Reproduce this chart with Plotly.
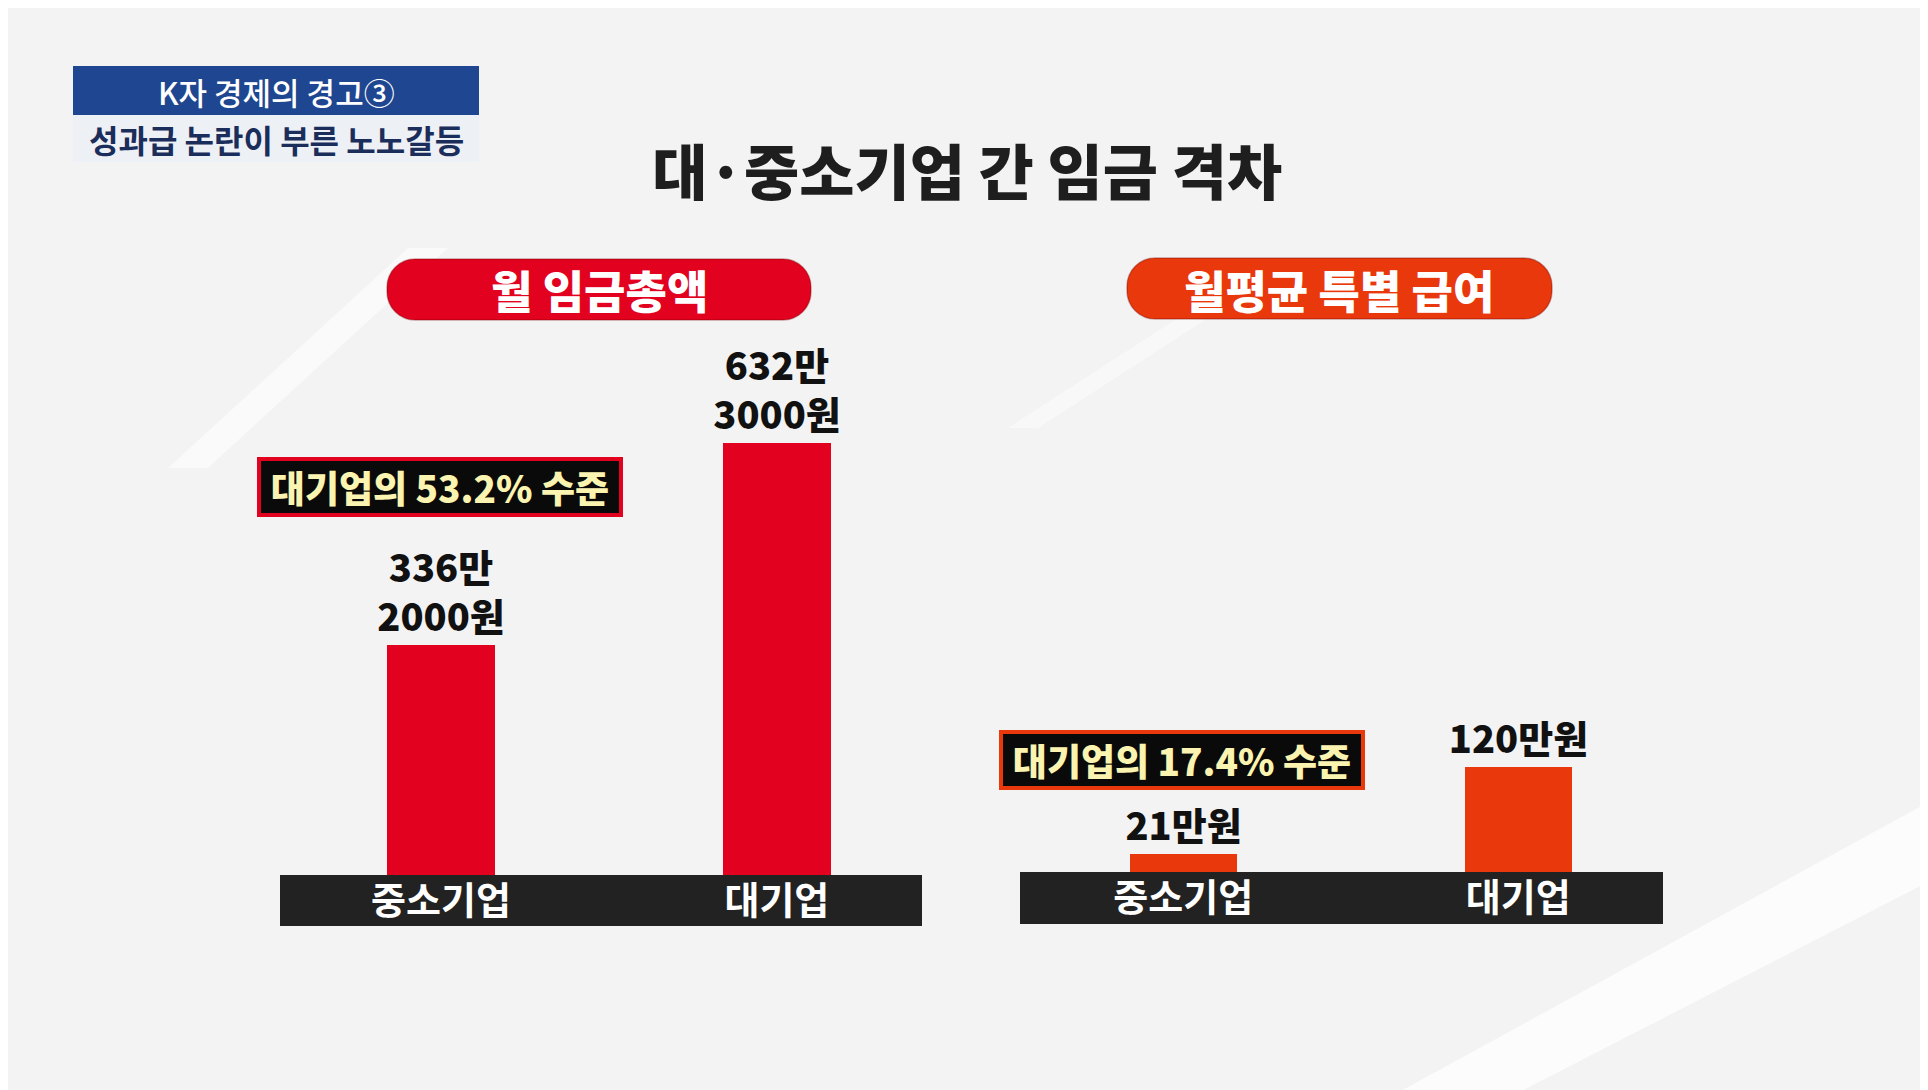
import plotly.graph_objects as go

W, H = 1928, 1090

# data (단위: 만원)
categories = ['중소기업', '대기업']
wage_total = [336.2, 632.3]
wage_total_labels = ['336만<br>2000원', '632만<br>3000원']
special_pay = [21, 120]
special_pay_labels = ['21만원', '120만원']
gap_notes = ['대기업의 53.2% 수준', '대기업의 17.4% 수준']
panel_titles = ['월 임금총액', '월평균 특별 급여']

FONT = 'Noto Sans CJK KR'
RED = '#e2021f'
ORANGE = '#e8380c'


def px(x):
    return x / W


def py(y):
    return 1 - y / H


def pill(x0, y0, x1, y1, r, color):
    # rounded rectangle in paper coords (pixel inputs)
    rx, ry = r / W, r / H
    X0, X1 = px(x0), px(x1)
    Y0, Y1 = py(y1), py(y0)
    k = 0.45
    path = (f'M {X0 + rx},{Y0} L {X1 - rx},{Y0} '
            f'C {X1 - rx * k},{Y0} {X1},{Y0 + ry * k} {X1},{Y0 + ry} '
            f'L {X1},{Y1 - ry} '
            f'C {X1},{Y1 - ry * k} {X1 - rx * k},{Y1} {X1 - rx},{Y1} '
            f'L {X0 + rx},{Y1} '
            f'C {X0 + rx * k},{Y1} {X0},{Y1 - ry * k} {X0},{Y1 - ry} '
            f'L {X0},{Y0 + ry} '
            f'C {X0},{Y0 + ry * k} {X0 + rx * k},{Y0} {X0 + rx},{Y0} Z')
    return dict(type='path', xref='paper', yref='paper', path=path,
                fillcolor=color, line=dict(color='rgba(120,0,0,0.35)', width=1.5),
                layer='below')


def label(text, x, y, size, color, weight=700, **kw):
    return dict(text=text, x=px(x), y=py(y), xref='paper', yref='paper',
                xanchor='center', yanchor='middle', showarrow=False,
                font=dict(family=FONT, size=size, color=color, weight=weight), **kw)


fig = go.Figure()

fig.add_trace(go.Bar(x=categories, y=wage_total, text=wage_total_labels,
                     textposition='outside', cliponaxis=False, constraintext='none',
                     textfont=dict(family=FONT, size=38, color='#111111', weight=900),
                     marker=dict(color=RED, line=dict(width=0)),
                     width=0.32, xaxis='x', yaxis='y', hoverinfo='skip'))

fig.add_trace(go.Bar(x=categories, y=special_pay, text=special_pay_labels,
                     textposition='outside', cliponaxis=False, constraintext='none',
                     textfont=dict(family=FONT, size=38, color='#111111', weight=900),
                     marker=dict(color=ORANGE, line=dict(width=0)),
                     width=0.32, xaxis='x2', yaxis='y2', hoverinfo='skip'))

axis_common = dict(showgrid=False, zeroline=False, showline=False, ticks='',
                   tickfont=dict(family=FONT, size=38, color='white', weight=700),
                   ticklabelstandoff=0, fixedrange=True)

shapes = [
    # background streaks
    dict(type='path', xref='paper', yref='paper', layer='below',
         path=f'M {px(160)},{py(460)} L {px(400)},{py(240)} L {px(440)},{py(240)} L {px(200)},{py(460)} Z',
         fillcolor='rgba(255,255,255,0.55)', line=dict(width=0)),
    dict(type='path', xref='paper', yref='paper', layer='below',
         path=f'M {px(1000)},{py(420)} L {px(1170)},{py(310)} L {px(1200)},{py(310)} L {px(1030)},{py(420)} Z',
         fillcolor='rgba(255,255,255,0.45)', line=dict(width=0)),
    dict(type='path', xref='paper', yref='paper', layer='below',
         path=f'M {px(1380)},{py(1090)} L {px(1928)},{py(790)} L {px(1928)},{py(870)} L {px(1500)},{py(1090)} Z',
         fillcolor='rgba(255,255,255,0.7)', line=dict(width=0)),
    # header boxes
    dict(type='rect', xref='paper', yref='paper', layer='below',
         x0=px(65), x1=px(471), y0=py(107), y1=py(58),
         fillcolor='#1f4690', line=dict(width=0)),
    dict(type='rect', xref='paper', yref='paper', layer='below',
         x0=px(65), x1=px(471), y0=py(154), y1=py(107),
         fillcolor='#edf0f5', line=dict(width=0)),
    # category bands
    dict(type='rect', xref='paper', yref='paper', layer='below',
         x0=px(272), x1=px(914), y0=py(918), y1=py(867),
         fillcolor='#222222', line=dict(width=0)),
    dict(type='rect', xref='paper', yref='paper', layer='below',
         x0=px(1012), x1=px(1655), y0=py(916), y1=py(864),
         fillcolor='#222222', line=dict(width=0)),
    # panel title pills
    pill(379, 251, 803, 312, 28, RED),
    pill(1119, 250, 1544, 311, 28, ORANGE),
]

annotations = [
    label('K자 경제의 경고③', 268, 83, 31, 'white', weight=500),
    label('성과급 논란이 부른 노노갈등', 268, 131, 32, '#1b2d5a'),
    label(panel_titles[0], 591, 282, 45, 'white', weight=900),
    label(panel_titles[1], 1331, 281, 45, 'white', weight=900),
    label(gap_notes[0], 432, 479, 37, '#fbf3b0', weight=900,
          bgcolor='#0a0a0a', bordercolor=RED, borderwidth=4, width=356, height=50),
    label(gap_notes[1], 1174, 752, 37, '#fbf3b0', weight=900,
          bgcolor='#0a0a0a', bordercolor=ORANGE, borderwidth=4, width=356, height=50),
]

fig.update_layout(
    width=W, height=H,
    margin=dict(l=0, r=0, t=0, b=0),
    paper_bgcolor='#f3f3f3', plot_bgcolor='rgba(0,0,0,0)',
    showlegend=False,
    title=dict(text='대·중소기업 간 임금 격차', x=0.4975, xanchor='center',
               y=py(166), yanchor='middle',
               font=dict(family=FONT, size=60, color='#1e1e1e', weight=900)),
    xaxis=dict(domain=[px(272), px(914)], range=[-0.479, 1.432], anchor='y', **axis_common),
    yaxis=dict(domain=[py(867), py(253)], range=[0, 898], visible=False, fixedrange=True),
    xaxis2=dict(domain=[px(1012), px(1655)], range=[-0.487, 1.432], anchor='y2', **axis_common),
    yaxis2=dict(domain=[py(864), py(250)], range=[0, 702], visible=False, fixedrange=True),
    shapes=shapes,
    annotations=annotations,
    bargap=0,
)

fig.write_html('out.html')
